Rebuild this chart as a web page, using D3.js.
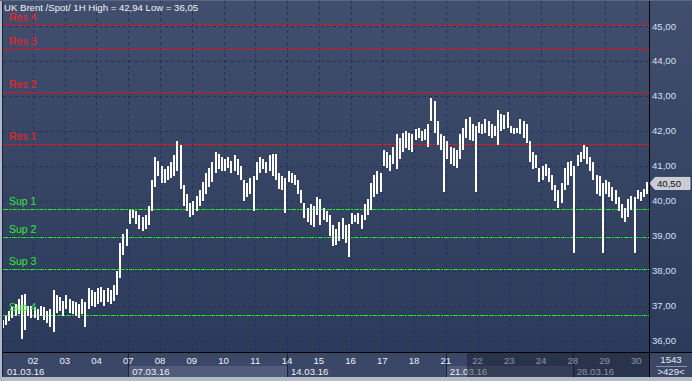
<!DOCTYPE html>
<html><head><meta charset="utf-8">
<script src="https://cdn.jsdelivr.net/npm/d3@7"></script>
<style>body{margin:0;background:#2e3b58;}svg{display:block;font-family:"Liberation Sans",Arial,sans-serif;}line{shape-rendering:crispEdges;}</style>
</head><body><svg id="c" width="692" height="381"></svg>
<script>
// ---- data ----
const title = "UK Brent /Spot/ 1H High = 42,94 Low = 36,05";
const days = ["01","02","03","04","07","08","09","10","11","14","15","16","17","18","21","22","23","24","28","29","30"];
const weekLabels = ["01.03.16","07.03.16","14.03.16","21.03.16","28.03.16"];
const weekStartDay = [0,4,9,14,18];
const priceTicks = [36,37,38,39,40,41,42,43,44,45];
const resLabels = ["Res 1","Res 2","Res 3","Res 4"];
const resLevels = [41.62,43.11,44.34,45.02];
const supLabels = ["Sup 1","Sup 2","Sup 3","Sup 4"];
const supLevels = [39.76,38.96,38.04,36.73];
const lastPrice = 40.50;
const totalBars = "1543";
const visibleBars = ">429<";
const barsPerDay = 10;
const highs = [36.6,36.7,36.85,36.95,37.05,37.2,37.3,37.35,37.0,37.0,
36.95,36.9,37.0,36.95,36.85,36.9,37.45,37.3,37.25,37.15,
37.3,37.2,37.15,37.1,37.05,37.2,37.1,37.5,37.45,37.4,
37.5,37.55,37.45,37.5,37.45,37.6,38.0,38.8,39.05,39.2,
39.75,39.75,39.7,39.6,39.55,39.6,39.85,40.6,41.25,41.15,
41.0,40.9,41.0,41.1,41.3,41.7,41.6,40.45,40.2,39.95,
40.0,40.15,40.3,40.55,40.8,40.95,41.1,41.4,41.35,41.25,
41.2,41.25,41.15,41.3,41.2,41.0,40.6,40.5,40.65,40.7,
41.1,41.25,41.2,41.1,41.3,41.35,41.35,40.8,40.7,40.65,
40.85,40.8,40.75,40.6,40.3,39.95,39.8,39.9,39.85,40.1,
40.05,39.8,39.7,39.6,39.3,39.2,39.4,39.5,39.3,39.35,
39.65,39.6,39.65,39.6,39.9,40.05,40.5,40.75,40.85,40.8,
41.45,41.4,41.3,41.55,41.9,41.8,41.95,42.0,41.95,41.9,
42.05,42.1,42.0,42.05,42.2,42.94,42.85,42.3,41.9,41.85,
41.7,41.55,41.5,41.45,41.9,42.1,42.35,42.4,42.2,42.15,
42.25,42.2,42.35,42.3,42.2,42.15,42.6,42.5,42.45,42.55,
42.15,42.1,42.1,42.35,42.3,42.2,41.7,41.4,41.3,40.95,
41.0,41.05,40.95,40.75,40.45,40.3,40.5,40.95,41.1,41.15,
41.0,41.3,41.4,41.6,41.55,41.25,41.1,40.75,40.7,40.5,
40.6,40.55,40.4,40.3,40.1,39.9,39.8,40.05,40.15,40.1,
40.3,40.25,40.35,40.55];
const lows = [36.35,36.45,36.55,36.65,36.7,36.75,36.05,36.3,36.7,36.65,
36.65,36.6,36.7,36.6,36.5,36.4,36.25,36.8,36.85,36.7,
36.9,36.8,36.75,36.7,36.65,36.75,36.4,36.9,37.0,36.95,
37.05,37.1,37.0,37.1,37.05,37.15,37.3,37.8,38.45,38.7,
39.35,39.5,39.35,39.2,39.15,39.2,39.3,39.7,40.4,40.7,
40.5,40.5,40.6,40.65,40.7,40.85,40.35,39.85,39.7,39.55,
39.6,39.7,39.85,40.0,40.2,40.4,40.55,40.8,40.9,40.85,
40.85,40.95,40.8,40.85,40.75,40.6,40.0,40.1,40.2,39.7,
40.6,40.8,40.9,40.8,40.85,40.7,40.6,40.35,40.3,39.65,
40.55,40.5,40.45,40.2,39.95,39.5,39.4,39.3,39.25,39.6,
39.3,39.45,39.4,39.0,38.7,38.75,38.85,38.9,38.8,38.4,
39.35,39.4,39.35,39.2,39.45,39.6,39.75,40.1,40.2,40.25,
41.0,40.95,40.85,41.05,40.9,41.2,41.4,41.5,41.45,41.4,
41.75,41.8,41.7,41.75,41.55,42.3,41.95,41.6,41.45,40.25,
41.2,41.05,41.0,40.95,41.2,41.45,41.8,41.75,41.7,40.25,
41.95,41.9,41.95,41.85,41.8,41.85,41.6,42.0,42.05,42.1,
41.95,41.9,41.95,41.9,41.8,41.65,41.1,40.9,40.95,40.55,
40.6,40.7,40.55,40.3,40.0,39.8,39.95,40.3,40.45,40.7,
38.5,41.0,41.1,41.2,41.05,40.85,40.6,40.2,40.15,38.5,
40.2,40.1,40.0,39.9,39.7,39.5,39.4,39.55,39.75,38.5,
40.05,40.0,40.1,40.2];

// ---- layout ----
const svg = d3.select("#c");
const PL = 3, PR = 649, PT = 0, PB = 352;
const dayW = 31.75, x0 = 1.25;
const x = d3.scaleLinear().domain([0, days.length]).range([x0, x0 + dayW*days.length]);
const y = d3.scaleLinear().domain([36, 45]).range([340.7, 26.15]);
const fmt = v => d3.format(".2f")(v).replace(".", ",");

const defs = svg.append("defs");
const g1 = defs.append("linearGradient").attr("id","bg").attr("x1",0).attr("y1",0).attr("x2",0).attr("y2",1);
g1.append("stop").attr("offset","0%").attr("stop-color","#414e6d");
g1.append("stop").attr("offset","100%").attr("stop-color","#2c3a5b");
defs.append("clipPath").attr("id","pc").append("rect").attr("x",PL).attr("y",PT).attr("width",PR-PL).attr("height",PB-PT);

svg.append("rect").attr("x",0).attr("y",0).attr("width",692).attr("height",PB).attr("fill","url(#bg)");

const plot = svg.append("g").attr("clip-path","url(#pc)");
// grid
plot.selectAll(".hg").data(priceTicks).join("line")
  .attr("x1",PL).attr("x2",PR).attr("y1",d=>Math.round(y(d))+0.5).attr("y2",d=>Math.round(y(d))+0.5)
  .attr("stroke","#1d3461").attr("stroke-dasharray","3,3");
plot.selectAll(".vg").data(d3.range(1, days.length)).join("line")
  .attr("x1",d=>Math.round(x(d))+0.5).attr("x2",d=>Math.round(x(d))+0.5).attr("y1",PT).attr("y2",PB)
  .attr("stroke","#1d3461").attr("stroke-dasharray","3,3");
// levels
plot.selectAll(".res").data(resLevels).join("line")
  .attr("x1",PL).attr("x2",PR).attr("y1",d=>Math.round(y(d))+0.5).attr("y2",d=>Math.round(y(d))+0.5)
  .attr("stroke","#ff1010").attr("stroke-dasharray","4,1");
plot.selectAll(".sup").data(supLevels).join("line")
  .attr("x1",PL).attr("x2",PR).attr("y1",d=>Math.round(y(d))+0.5).attr("y2",d=>Math.round(y(d))+0.5)
  .attr("stroke","#1ef01e").attr("stroke-dasharray","5,1,2,1");
// bars
plot.selectAll(".bar").data(highs.map((h,i)=>({i,h,l:lows[i]}))).join("rect")
  .attr("x",d=>Math.round(x((d.i+0.5)/barsPerDay))-1).attr("width",2)
  .attr("y",d=>Math.round(y(d.h))).attr("height",d=>Math.max(1,Math.round(y(d.l))-Math.round(y(d.h))))
  .attr("fill","#ffffff").attr("shape-rendering","crispEdges");
// level labels
plot.selectAll(".rl").data(resLevels).join("text")
  .attr("x",9).attr("y",d=>y(d)-4).text((d,i)=>resLabels[i])
  .attr("fill","#ff2020").attr("font-size","10.5px");
plot.selectAll(".sl").data(supLevels).join("text")
  .attr("x",9).attr("y",d=>y(d)-4).text((d,i)=>supLabels[i])
  .attr("fill","#33e833").attr("font-size","10.5px");
// title
svg.append("text").attr("x",4).attr("y",11).text(title).attr("fill","#f0f3f8").attr("font-size","9.6px");

// right axis labels
svg.selectAll(".yl").data(priceTicks).join("text")
  .attr("x",652).attr("y",d=>y(d)).attr("dy","0.35em").text(fmt)
  .attr("fill","#d6e0f2").attr("font-size","9.6px");
// last price tag
const ly = y(lastPrice);
svg.append("path").attr("d",`M650,${ly} L655,${ly-6} L690,${ly-6} L690,${ly+6} L655,${ly+6} Z`)
  .attr("fill","#c8ccd3").attr("stroke","#e4e7eb").attr("stroke-width",0.8);
svg.append("text").attr("x",657).attr("y",ly).attr("dy","0.35em").text(fmt(lastPrice))
  .attr("fill","#111").attr("font-size","9.6px");

// x axis area
svg.append("rect").attr("x",0).attr("y",PB).attr("width",692).attr("height",377-PB).attr("fill","#3a4766");
const wEnds = weekStartDay.slice(1).concat([days.length]);
svg.selectAll(".wb").data(weekLabels).join("rect")
  .attr("x",(d,i)=>Math.max(PL,x(weekStartDay[i]))).attr("y",366)
  .attr("width",(d,i)=>Math.min(PR,x(wEnds[i]))-Math.max(PL,x(weekStartDay[i]))).attr("height",11)
  .attr("fill",(d,i)=>i%2?"#505c79":"#3a4766");
svg.selectAll(".wsep").data(weekStartDay.slice(1)).join("line")
  .attr("x1",d=>Math.round(x(d))+0.5).attr("x2",d=>Math.round(x(d))+0.5).attr("y1",PB).attr("y2",377)
  .attr("stroke","#1c2438");
svg.selectAll(".dl").data(days).join("text")
  .attr("x",(d,i)=>x(i)).attr("y",361).attr("dy","0.35em").attr("text-anchor","middle")
  .text((d,i)=>i===0?"":d).attr("fill","#eef1f6").attr("font-size","9.6px");
svg.selectAll(".wl").data(weekLabels).join("text")
  .attr("x",(d,i)=>Math.max(PL,x(weekStartDay[i]))+4).attr("y",371.5).attr("dy","0.35em")
  .text(d=>d).attr("fill","#eef1f6").attr("font-size","9.6px");
// dim overlay on later part of the axis
svg.append("rect").attr("x",x(14.67)).attr("y",PB).attr("width",PR-x(14.67)).attr("height",377-PB)
  .attr("fill","#141a2c").attr("opacity",0.45);

// bar count box
svg.append("rect").attr("x",PR).attr("y",PB).attr("width",692-PR).attr("height",377-PB).attr("fill","#3a4766");
svg.append("text").attr("x",671).attr("y",360).attr("dy","0.35em").attr("text-anchor","middle").text(totalBars)
  .attr("fill","#e6eaf2").attr("font-size","9.6px");
svg.append("line").attr("x1",656).attr("x2",687).attr("y1",366.5).attr("y2",366.5).attr("stroke","#8a94aa");
svg.append("text").attr("x",671).attr("y",372).attr("dy","0.35em").attr("text-anchor","middle").text(visibleBars)
  .attr("fill","#e6eaf2").attr("font-size","9.6px");

// frame lines
svg.append("line").attr("x1",0).attr("x2",692).attr("y1",PB+0.5).attr("y2",PB+0.5).attr("stroke","#000");
svg.append("line").attr("x1",PR+0.5).attr("x2",PR+0.5).attr("y1",0).attr("y2",377).attr("stroke","#000");
svg.append("rect").attr("x",0).attr("y",377).attr("width",692).attr("height",4).attr("fill","#b3bbc7");
svg.append("rect").attr("x",0).attr("y",0).attr("width",2).attr("height",381).attr("fill","#aeb8c8");
svg.append("line").attr("x1",2.5).attr("x2",2.5).attr("y1",0).attr("y2",377).attr("stroke","#1a2236");
svg.append("line").attr("x1",0).attr("x2",692).attr("y1",0.5).attr("y2",0.5).attr("stroke","#5a6580");
</script></body></html>
